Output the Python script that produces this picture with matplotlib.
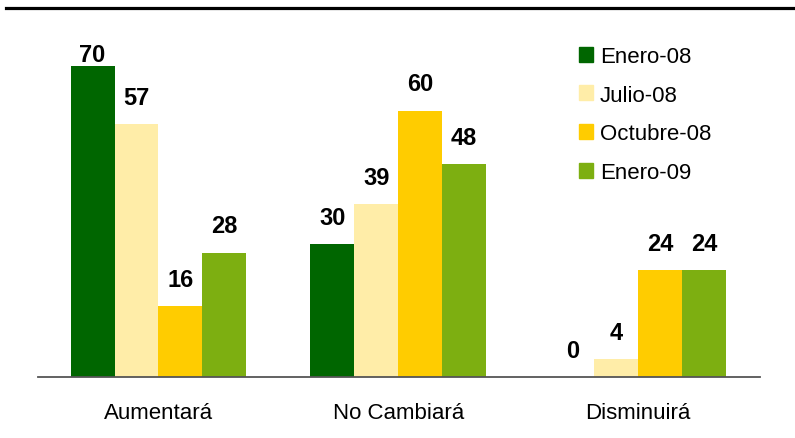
import numpy as np
import matplotlib
matplotlib.use('Agg')
from matplotlib import pyplot as plt
from matplotlib.lines import Line2D
from matplotlib.patches import Patch

categories = ['Aumentará', 'No Cambiará', 'Disminuirá']
series = ['Enero-08', 'Julio-08', 'Octubre-08', 'Enero-09']
enero08 = [70, 30, 0]
julio08 = [57, 39, 4]
octubre08 = [16, 60, 24]
enero09 = [28, 48, 24]
colors = ['#006600', '#FFEDA8', '#FFCC00', '#7DAF11']

plt.rcParams['font.family'] = ['Liberation Sans', 'DejaVu Sans']

fig = plt.figure(figsize=(7.95, 4.39), dpi=100)
ax = fig.add_axes([38/795, 61/439, 722/795, 348/439])

x = np.arange(len(categories))
w = 0.183
values = [enero08, julio08, octubre08, enero09]
for i, (vals, col) in enumerate(zip(values, colors)):
    pos = x + (i - 1.5) * w
    ax.bar(pos, vals, w, color=col, label=series[i])
    for p, v in zip(pos, vals):
        # the tallest label sits closer to its bar (no room above)
        off = 0 if v > 65 else 11
        ax.annotate(str(v), (p, v), xytext=(0, off), textcoords='offset points',
                    ha='center', va='bottom', fontsize=17, fontweight='bold')

ax.set_xlim(-0.502, 2.508)
ax.set_ylim(0, 78.4)
for s in ['top', 'left', 'right']:
    ax.spines[s].set_visible(False)
ax.spines['bottom'].set_color('#555555')
ax.spines['bottom'].set_linewidth(1.3)
ax.set_yticks([])
ax.set_xticks(x)
ax.set_xticklabels(categories, fontsize=16)
ax.tick_params(axis='x', length=0, pad=18)

handles = [Patch(color=c, label=s) for c, s in zip(colors, series)]
fig.legend(handles=handles, loc='upper left', bbox_to_anchor=(570/795, 1 - 38/439),
           frameon=False, fontsize=16, handlelength=0.65, handleheight=0.65,
           handletextpad=0.3, labelspacing=0.8, borderaxespad=0)

fig.add_artist(Line2D([6/795, 1], [1 - 8.5/439, 1 - 8.5/439], color='black', linewidth=2.3))

plt.savefig('out.png', dpi=100)
